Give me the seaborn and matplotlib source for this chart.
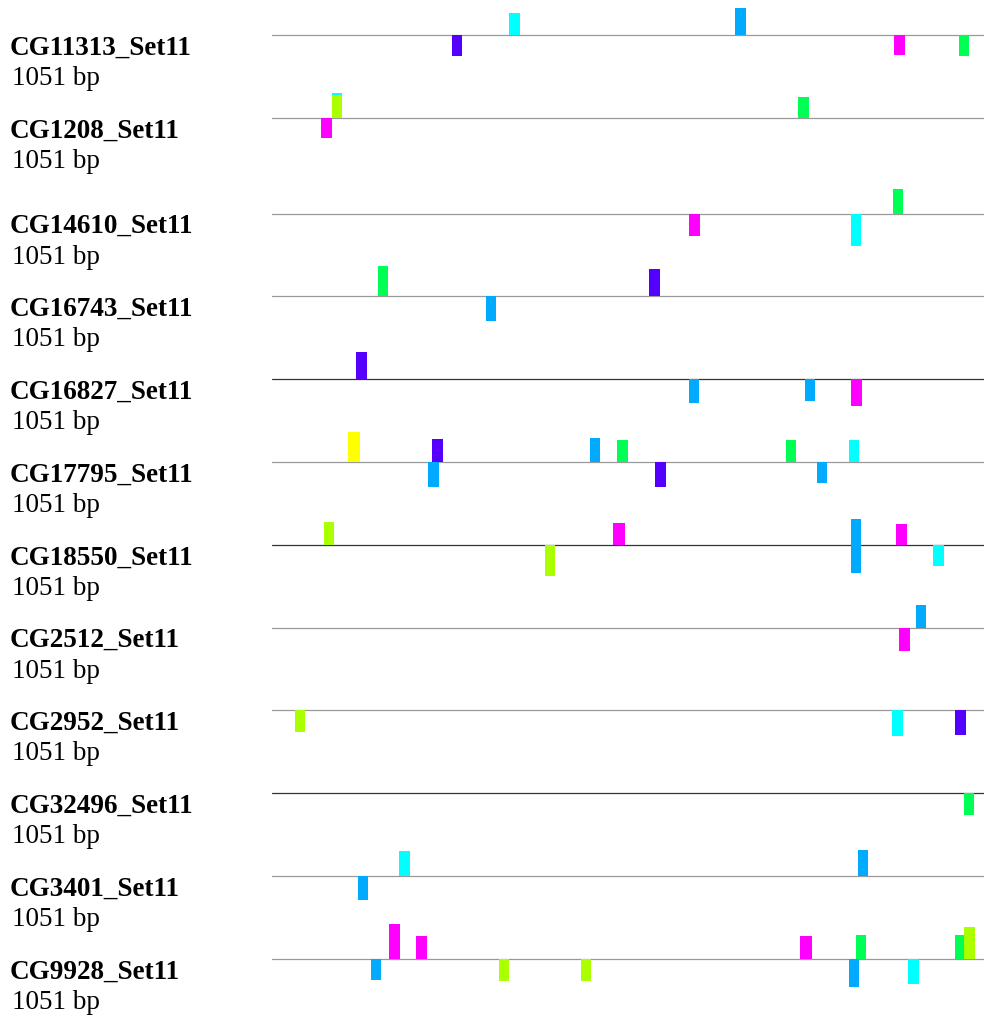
import pandas as pd
import matplotlib.pyplot as plt
import seaborn as sns

# sequences
seq_names = ["CG11313_Set11", "CG1208_Set11", "CG14610_Set11", "CG16743_Set11",
             "CG16827_Set11", "CG17795_Set11", "CG18550_Set11", "CG2512_Set11",
             "CG2952_Set11", "CG32496_Set11", "CG3401_Set11", "CG9928_Set11"]
seq_len = [1051] * 12

# motifs: width in bp
motif_names = ["purple", "cyan", "blue", "magenta", "green", "lime", "yellow"]
motif_width = [16, 16, 15, 17, 15, 15, 18]

# sites
site_seq = [0, 0, 0, 0, 0,
            1, 1, 1, 1,
            2, 2, 2,
            3, 3, 3,
            4, 4, 4, 4,
            5, 5, 5, 5, 5, 5, 5, 5, 5,
            6, 6, 6, 6, 6, 6, 6,
            7, 7,
            8, 8, 8,
            9,
            10, 10, 10,
            11, 11, 11, 11, 11, 11, 11, 11, 11, 11, 11]
site_motif = ["purple", "cyan", "blue", "magenta", "green",
              "magenta", "cyan", "lime", "green",
              "magenta", "cyan", "green",
              "green", "blue", "purple",
              "purple", "blue", "blue", "magenta",
              "yellow", "blue", "purple", "blue", "green", "purple", "green", "blue", "cyan",
              "lime", "lime", "magenta", "blue", "blue", "magenta", "cyan",
              "magenta", "blue",
              "lime", "cyan", "purple",
              "green",
              "blue", "cyan", "blue",
              "blue", "magenta", "magenta", "lime", "lime", "magenta", "blue", "green", "cyan", "green", "lime"]
site_start = [265, 350, 684, 918, 1014,
              72, 88, 88, 777,
              615, 854, 916,
              156, 316, 557,
              124, 615, 787, 854,
              112, 231, 236, 469, 510, 565, 759, 804, 851,
              77, 403, 504, 854, 854, 921, 976,
              925, 950,
              34, 915, 1008,
              1021,
              127, 188, 865,
              146, 172, 212, 335, 456, 780, 851, 862, 939, 1008, 1022]
site_strand = ["-", "+", "+", "-", "-",
               "-", "+", "+", "+",
               "-", "-", "+",
               "+", "-", "+",
               "+", "-", "-", "-",
               "+", "-", "+", "+", "+", "-", "+", "-", "+",
               "+", "-", "+", "+", "-", "+", "-",
               "-", "+",
               "-", "-", "-",
               "-",
               "-", "+", "+",
               "-", "+", "+", "-", "-", "+", "-", "+", "-", "+", "+"]
site_score = [21, 22, 27, 20, 21,
              20, 25, 22.5, 21,
              22, 32, 25,
              30, 25, 27,
              27, 24, 22, 27,
              30, 25, 23, 24, 22, 25, 22, 21, 22,
              23, 31, 22, 26, 28, 21, 21,
              23, 23,
              22, 26, 25,
              22,
              24, 25, 26,
              21, 35, 23, 22, 22, 23, 28, 24, 25, 24, 32]

df = pd.DataFrame({"seq": site_seq, "motif": site_motif, "start": site_start,
                   "strand": site_strand, "score": site_score})
df["width"] = df["motif"].map(dict(zip(motif_names, motif_width)))

# style
sns.set_theme(style="white")
palette = {"purple": "#5500ff", "cyan": "#00ffff", "blue": "#00aaff",
           "magenta": "#ff00ff", "green": "#00ff55", "lime": "#aaff00",
           "yellow": "#ffff00"}
dark_rows = {4, 6, 9}

W, H = 984, 1015
fig = plt.figure(figsize=(W / 100, H / 100), dpi=100)
x0 = 272
ax = fig.add_axes([x0 / W, 0, (W - x0) / W, 1])
ax.set_xlim(0, max(seq_len))
ax.set_ylim(H, 0)
ax.axis("off")

# baseline of each row (pixels from top)
row_y = []
y = 35
for i in range(len(seq_names)):
    row_y.append(y)
    y += 82.8 + (13 if i == 1 else 0)

for i, name in enumerate(seq_names):
    base = row_y[i]
    ax.plot([0, seq_len[i]], [base, base], lw=0.9,
            color="#333333" if i in dark_rows else "#999999", zorder=1)
    fig.text(10 / W, 1 - (base + 19.5) / H, name, fontsize=19.5, color="black",
             fontweight="bold", family="Liberation Serif", va="baseline")
    fig.text(12 / W, 1 - (base + 50) / H, f"{seq_len[i]} bp", fontsize=19.5,
             color="black", family="Liberation Serif", va="baseline")

for _, r in df.iterrows():
    h = -r["score"] if r["strand"] == "+" else r["score"]
    ax.bar(r["start"], h, bottom=row_y[r["seq"]], width=r["width"], align="edge",
           color=palette[r["motif"]], linewidth=0, zorder=2)

fig.savefig("out.png", dpi=100)
